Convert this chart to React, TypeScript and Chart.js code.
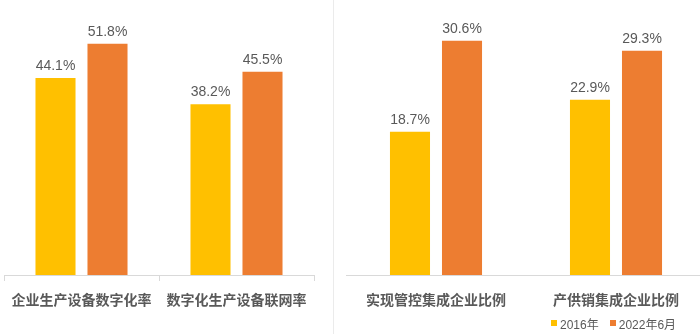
import React, { useEffect, useRef } from "react";
import { Chart, registerables } from "chart.js";

Chart.register(...registerables);

const leftCategories = ["企业生产设备数字化率", "数字化生产设备联网率"];
const left2016 = [44.1, 38.2];
const left2022 = [51.8, 45.5];

const rightCategories = ["实现管控集成企业比例", "产供销集成企业比例"];
const right2016 = [18.7, 22.9];
const right2022 = [30.6, 29.3];

const seriesNames = ["2016年", "2022年6月"];
const seriesColors = ["#FFC000", "#ED7D31"];

const TEXT = "#595959";
const AXIS = "#d9d9d9";

const valueLabels = {
  id: "valueLabels",
  afterDatasetsDraw(chart: any) {
    const ctx = chart.ctx;
    ctx.save();
    ctx.font = "14px 'Liberation Sans', Arial, sans-serif";
    ctx.fillStyle = TEXT;
    ctx.textAlign = "center";
    ctx.textBaseline = "alphabetic";
    chart.data.datasets.forEach((ds: any, di: number) => {
      const meta = chart.getDatasetMeta(di);
      meta.data.forEach((el: any, i: number) => {
        ctx.fillText(ds.data[i].toFixed(1) + "%", el.x, el.y - 8);
      });
    });
    ctx.restore();
  },
};

function makeConfig(
  labels: string[],
  a: number[],
  b: number[],
  max: number,
  padL: number,
  padR: number,
  catPct: number,
  showTicks: boolean
): any {
  return {
    type: "bar",
    data: {
      labels,
      datasets: [
        { label: seriesNames[0], data: a, backgroundColor: seriesColors[0] },
        { label: seriesNames[1], data: b, backgroundColor: seriesColors[1] },
      ],
    },
    options: {
      animation: false,
      responsive: false,
      maintainAspectRatio: false,
      layout: { padding: { top: 7, left: padL, right: padR, bottom: 0 } },
      datasets: { bar: { categoryPercentage: catPct, barPercentage: 0.77 } },
      plugins: { legend: { display: false }, tooltip: { enabled: false } },
      scales: {
        y: { display: false, min: 0, max },
        x: {
          afterFit: (s: any) => {
            s.height = 59;
          },
          grid: {
            display: showTicks,
            drawOnChartArea: false,
            drawTicks: true,
            tickLength: 6,
            color: AXIS,
            offset: true,
          },
          border: { display: true, color: AXIS, width: 1 },
          ticks: {
            color: TEXT,
            padding: 10,
            autoSkip: false,
            maxRotation: 0,
            font: { family: "'Noto Sans CJK SC', sans-serif", size: 14, weight: "bold" },
          },
        },
      },
    },
    plugins: [valueLabels],
  };
}

export default function App() {
  const leftRef = useRef<HTMLCanvasElement>(null);
  const rightRef = useRef<HTMLCanvasElement>(null);

  useEffect(() => {
    const c1 = new Chart(
      leftRef.current as HTMLCanvasElement,
      makeConfig(leftCategories, left2016, left2022, 60, 4, 19, 0.671, true)
    );
    const c2 = new Chart(
      rightRef.current as HTMLCanvasElement,
      makeConfig(rightCategories, right2016, right2022, 35, 12, 8, 0.578, false)
    );
    return () => {
      c1.destroy();
      c2.destroy();
    };
  }, []);

  const legendText: React.CSSProperties = {
    font: "12px 'Liberation Sans', 'Noto Sans CJK SC', sans-serif",
    color: TEXT,
  };

  return (
    <div
      style={{
        position: "absolute",
        left: 0,
        top: 0,
        width: 700,
        height: 334,
        overflow: "hidden",
        background: "#fff",
      }}
    >
      <canvas
        ref={leftRef}
        width={333}
        height={334}
        style={{ position: "absolute", left: 0, top: 0, width: 333, height: 334 }}
      />
      <div
        style={{ position: "absolute", left: 333, top: 0, width: 1, height: 334, background: "#ebebeb" }}
      />
      <canvas
        ref={rightRef}
        width={380}
        height={334}
        style={{ position: "absolute", left: 334, top: 0, width: 380, height: 334 }}
      />
      <div
        style={{
          position: "absolute",
          left: 551,
          top: 314,
          height: 18,
          display: "flex",
          alignItems: "center",
          whiteSpace: "nowrap",
        }}
      >
        <span style={{ display: "inline-block", width: 6, height: 6, background: seriesColors[0], marginRight: 3 }} />
        <span style={{ ...legendText, marginRight: 11 }}>{seriesNames[0]}</span>
        <span style={{ display: "inline-block", width: 6, height: 6, background: seriesColors[1], marginRight: 3 }} />
        <span style={legendText}>{seriesNames[1]}</span>
      </div>
    </div>
  );
}
